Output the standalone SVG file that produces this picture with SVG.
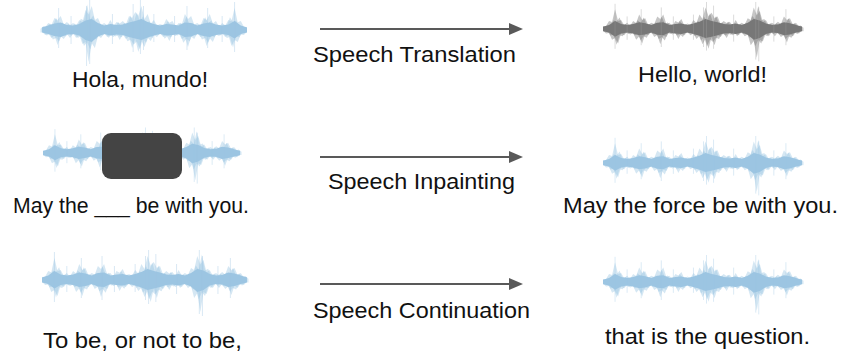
<svg xmlns="http://www.w3.org/2000/svg" xmlns:xlink="http://www.w3.org/1999/xlink" width="843" height="358" viewBox="0 0 843 358">
<style>
.lbl{font-family:"Liberation Sans",Arial,sans-serif;font-size:22px;fill:#111;}
.blue{fill:#9cc5e2;stroke:#9cc5e2;}
.gray{fill:#777777;stroke:#9a9a9a;}
.conn{stroke:#595959;stroke-width:2;fill:none;}
.wo{stroke:none;fill-opacity:0.42;}
.wi{stroke:none;}
.sp{fill:none;stroke-width:0.7;stroke-opacity:0.55;}
</style>
<defs>
<marker id="ah" markerUnits="userSpaceOnUse" markerWidth="14" markerHeight="12" refX="0" refY="6" orient="auto">
<path d="M0,0 L14,6 L0,12 Z" fill="#595959"/>
</marker>
<path id="wo" class="wo" d="M0,-3 L3,-3.3 L6,-9 L9,-7.7 L12,-22 L15,-8.8 L18,-10 L21,-4.4 L24,-7 L27,-3.3 L30,-9 L33,-6.6 L36,-16 L39,-9.9 L42,-12 L45,-4.4 L48,-7 L51,-5.5 L54,-14 L57,-11 L60,-16 L63,-5.5 L66,-7 L69,-3.3 L72,-9 L75,-7.2 L78,-11 L81,-3.9 L84,-6 L87,-4.4 L90,-10 L93,-6.6 L96,-16 L99,-11 L102,-24 L105,-14.3 L108,-18 L111,-12.1 L114,-14 L117,-5.5 L120,-9 L123,-6.6 L126,-8 L129,-3.9 L132,-10 L135,-4.4 L138,-7 L141,-5 L144,-12 L147,-9.9 L150,-24 L153,-15.4 L156,-20 L159,-7.7 L162,-10 L165,-4.4 L168,-7 L171,-5 L174,-8 L177,-5.5 L180,-14 L183,-9.9 L186,-12 L189,-5 L192,-7 L195,-2.8 L198,-3 L198,1.7 L195,5 L192,3.3 L189,8 L186,5.5 L183,15 L180,6.6 L177,9 L174,3.9 L171,8 L168,3.3 L165,8 L162,5 L159,14 L156,12 L153,32 L150,13.2 L147,18 L144,6 L141,8 L138,3.3 L135,7 L132,5 L129,7 L126,3.9 L123,10 L120,4.4 L117,9 L114,6.6 L111,18 L108,8.8 L105,22 L102,11 L99,17 L96,7.7 L93,11 L90,5 L87,7 L84,3.3 L81,7 L78,5 L75,11 L72,4.4 L69,6 L66,3.3 L63,9 L60,7.2 L57,17 L54,6.6 L51,9 L48,3.3 L45,7 L42,5.5 L39,16 L36,8.3 L33,12 L30,4.4 L27,6 L24,3.3 L21,7 L18,5 L15,16 L12,9.9 L9,12 L6,4.4 L3,5 L0,1.7 Z"/>
<g id="wave">
<use href="#wo"/>
<use href="#wo" transform="translate(1.5,0) scale(1,-0.8)"/>
<path class="wi" d="M0,-2.5 L6,-4.5 L12,-9 L18,-5.5 L24,-4.5 L30,-5.5 L36,-7.5 L42,-6.5 L48,-4.5 L54,-7 L60,-7.5 L66,-4.5 L72,-5.5 L78,-6 L84,-4.5 L90,-6 L96,-8 L102,-11 L108,-9 L114,-7.5 L120,-5.5 L126,-5 L132,-6 L138,-4.5 L144,-7 L150,-11 L156,-9.5 L162,-6 L168,-4.5 L174,-5 L180,-7.5 L186,-6.5 L192,-4.5 L198,-2.5 L198,2.5 L192,4 L186,6 L180,7 L174,4.5 L168,4 L162,5.5 L156,10 L150,12 L144,6.5 L138,4 L132,5.5 L126,4.5 L120,5 L114,7 L108,8.5 L102,10 L96,7.5 L90,5.5 L84,4 L78,5.5 L72,5 L66,4 L60,7 L54,6.5 L48,4 L42,6 L36,7 L30,5 L24,4 L18,5 L12,8.5 L6,4 L0,2.5 Z"/>
<path class="sp" d="M12,-28 V22 M38,-22 V18 M58,-24 V20 M100,-24 V20 M103,-30 V24 M110,-26 V22 M152,-30 V34 M155,-24 V36 M182,-22 V18 M24,-14 V12 M70,-14 V12 M130,-16 V14 M170,-14 V14 M90,-16 V12"/>
</g>
</defs>

<g id="connectors">
<line class="conn" x1="320" y1="29" x2="509" y2="29" marker-end="url(#ah)"/>
<line class="conn" x1="320" y1="157" x2="509" y2="157" marker-end="url(#ah)"/>
<line class="conn" x1="320" y1="284" x2="509" y2="284" marker-end="url(#ah)"/>
</g>

<g id="task-translation">
<text class="lbl" x="313" y="62" textLength="203" lengthAdjust="spacingAndGlyphs">Speech Translation</text>
</g>
<g id="task-inpainting">
<text class="lbl" x="328" y="189" textLength="187" lengthAdjust="spacingAndGlyphs">Speech Inpainting</text>
</g>
<g id="task-continuation">
<text class="lbl" x="313" y="318" textLength="217" lengthAdjust="spacingAndGlyphs">Speech Continuation</text>
</g>

<g id="src-translation">
<use href="#wave" class="blue" transform="translate(247,30) scale(-1.035,1)"/>
<text class="lbl" x="72" y="86.5" textLength="136" lengthAdjust="spacingAndGlyphs">Hola, mundo!</text>
</g>
<g id="tgt-translation">
<use href="#wave" class="gray" transform="translate(603,29) scale(1.005,0.9)"/>
<text class="lbl" x="638" y="82" textLength="129" lengthAdjust="spacingAndGlyphs">Hello, world!</text>
</g>

<g id="src-inpainting">
<use href="#wave" class="blue" transform="translate(43,153) scale(0.995,0.85)"/>
<rect x="102" y="133" width="80" height="46" rx="9" fill="#444444"/>
<text class="lbl" x="13" y="213" textLength="236" lengthAdjust="spacingAndGlyphs">May the ___ be with you.</text>
</g>
<g id="tgt-inpainting">
<use href="#wave" class="blue" transform="translate(603,163) scale(1.005,0.9)"/>
<text class="lbl" x="563" y="213" textLength="275" lengthAdjust="spacingAndGlyphs">May the force be with you.</text>
</g>

<g id="src-continuation">
<use href="#wave" class="blue" transform="translate(42,280) scale(1.035,1)"/>
<text class="lbl" x="43" y="348" textLength="199" lengthAdjust="spacingAndGlyphs">To be, or not to be,</text>
</g>
<g id="tgt-continuation">
<use href="#wave" class="blue" transform="translate(603,282) scale(1.005,0.9)"/>
<text class="lbl" x="605" y="344" textLength="205" lengthAdjust="spacingAndGlyphs">that is the question.</text>
</g>
</svg>
